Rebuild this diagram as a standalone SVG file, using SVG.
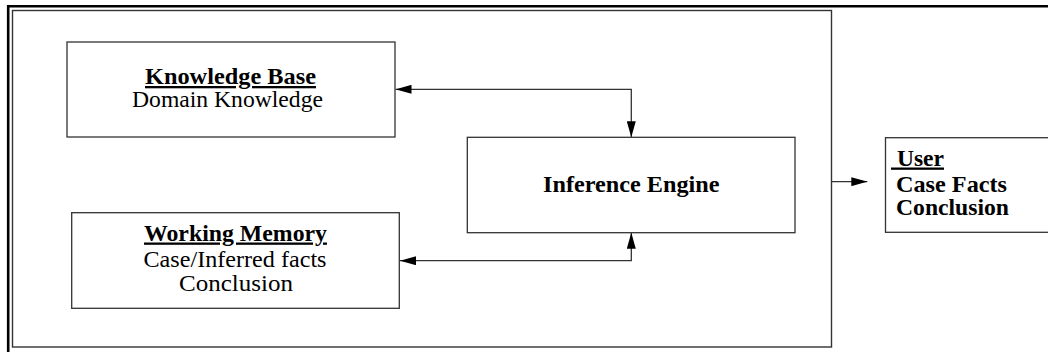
<svg xmlns="http://www.w3.org/2000/svg" width="1048" height="352" viewBox="0 0 1048 352">
<style>
  .box { fill: #fff; stroke: #333; stroke-width: 1.3; }
  .t { font-family: "Liberation Serif", "Times New Roman", serif; font-size: 23px; fill: #000; }
  .b { font-weight: bold; }
  .u { text-decoration: underline; }
  .conn { fill: none; stroke: #333; stroke-width: 1.3; }
</style>
<defs>
  <marker id="ah" viewBox="0 0 16 9" refX="16" refY="4.5" markerWidth="16" markerHeight="9" markerUnits="userSpaceOnUse" orient="auto-start-reverse">
    <path d="M0,0 L16,4.5 L0,9 z" fill="#000"/>
  </marker>
</defs>
<rect width="1048" height="352" fill="#fff"/>
<g id="frame">
  <path d="M8.2,352 L8.2,6.2 L1048,6.2" fill="none" stroke="#000" stroke-width="2.6"/>
  <rect x="12.5" y="10.5" width="819" height="336.5" fill="none" stroke="#333" stroke-width="1.4"/>
</g>
<g id="connectors">
  <path class="conn" d="M631.3,137.3 L631.3,89.3 L395.5,89.3" marker-start="url(#ah)" marker-end="url(#ah)"/>
  <path class="conn" d="M631.3,232.7 L631.3,260.7 L400,260.7" marker-start="url(#ah)" marker-end="url(#ah)"/>
  <path class="conn" d="M831.5,181.7 L867.3,181.7" marker-end="url(#ah)"/>
</g>
<g id="knowledge-base">
  <rect class="box" x="67" y="42" width="328" height="95"/>
  <text class="t b u" x="145" y="84" textLength="171" lengthAdjust="spacingAndGlyphs">Knowledge Base</text>
  <text class="t" x="132" y="107" textLength="191" lengthAdjust="spacingAndGlyphs">Domain Knowledge</text>
</g>
<g id="working-memory">
  <rect class="box" x="71.7" y="212.7" width="327.6" height="95.6"/>
  <text class="t b u" x="144" y="240.5" textLength="183" lengthAdjust="spacingAndGlyphs">Working Memory</text>
  <text class="t" x="143.5" y="266.5" textLength="183" lengthAdjust="spacingAndGlyphs">Case/Inferred facts</text>
  <text class="t" x="179" y="290.5" textLength="114" lengthAdjust="spacingAndGlyphs">Conclusion</text>
</g>
<g id="inference-engine">
  <rect class="box" x="467.3" y="137.3" width="327.7" height="95.4"/>
  <text class="t b" x="543" y="192" textLength="176.5" lengthAdjust="spacingAndGlyphs">Inference Engine</text>
</g>
<g id="user">
  <rect class="box" x="885.5" y="137.7" width="170" height="94.6"/>
  <text class="t b u" x="891" y="165.5" textLength="53" lengthAdjust="spacingAndGlyphs" xml:space="preserve"> User</text>
  <text class="t b" x="896" y="191.5" textLength="111" lengthAdjust="spacingAndGlyphs">Case Facts</text>
  <text class="t b" x="896" y="215" textLength="113" lengthAdjust="spacingAndGlyphs">Conclusion</text>
</g>
</svg>
